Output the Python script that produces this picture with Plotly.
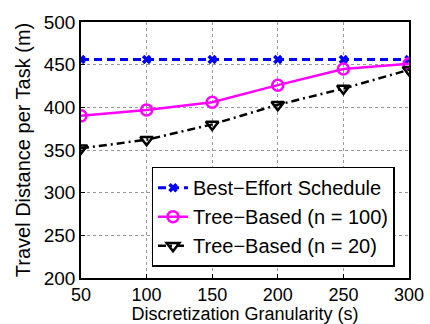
import plotly.graph_objects as go

x_vals = [50, 100, 150, 200, 250, 300]
best_effort = [456, 456, 456, 456, 456, 456]
tree_100 = [390, 397, 406, 426, 445, 451]
tree_20 = [352, 362, 380, 403, 422, 444]
x_ticks = [50, 100, 150, 200, 250, 300]
y_ticks = [200, 250, 300, 350, 400, 450, 500]

fig = go.Figure()
fig.add_trace(go.Scatter(x=x_vals, y=best_effort, mode="lines+markers",
                         name="Best\u2212Effort Schedule",
                         line=dict(color="#0000ff", width=3, dash="8px,5px"),
                         marker=dict(symbol="x-thin", size=7, line=dict(color="#0000ff", width=3.5))))
fig.add_trace(go.Scatter(x=x_vals, y=tree_100, mode="lines+markers",
                         name="Tree\u2212Based (n = 100)",
                         line=dict(color="#ff00ff", width=2.5),
                         marker=dict(symbol="circle-open", size=11, color="#ff00ff", line=dict(width=2.5))))
fig.add_trace(go.Scatter(x=x_vals, y=tree_20, mode="lines+markers",
                         name="Tree\u2212Based (n = 20)",
                         line=dict(color="black", width=2.5, dash="8px,4px,2px,4px"),
                         marker=dict(symbol="triangle-down-open", size=11, color="black", line=dict(width=2.5))))

axis_common = dict(showline=True, linecolor="black", linewidth=1.5, mirror=True,
                   ticks="inside", ticklen=4, tickcolor="black",
                   showgrid=True, gridcolor="#999999", griddash="dot", gridwidth=1,
                   zeroline=False)

fig.update_layout(
    width=430, height=324,
    margin=dict(l=81, r=21, t=22, b=46, autoexpand=False),
    plot_bgcolor="white", paper_bgcolor="white",
    font=dict(family="Liberation Sans, Arial, sans-serif", color="black"),
    showlegend=True,
    legend=dict(x=0.215, y=0.435, xanchor="left", yanchor="top",
                bordercolor="black", borderwidth=1.5, bgcolor="white",
                font=dict(size=20), tracegroupgap=0, itemwidth=30),
)
fig.update_xaxes(range=[50, 300], tickvals=x_ticks, **axis_common,
                 tickfont=dict(size=18, color="black"),
                 title=dict(text="Discretization Granularity (s)", font=dict(size=18), standoff=0))
fig.update_yaxes(range=[200, 500], tickvals=y_ticks, **axis_common,
                 tickfont=dict(size=19, color="black"),
                 title=dict(text="Travel Distance per Task (m)", font=dict(size=20), standoff=8))

fig.write_html("out.html", config={"displayModeBar": False},
               post_script="document.body.style.margin='0';")
